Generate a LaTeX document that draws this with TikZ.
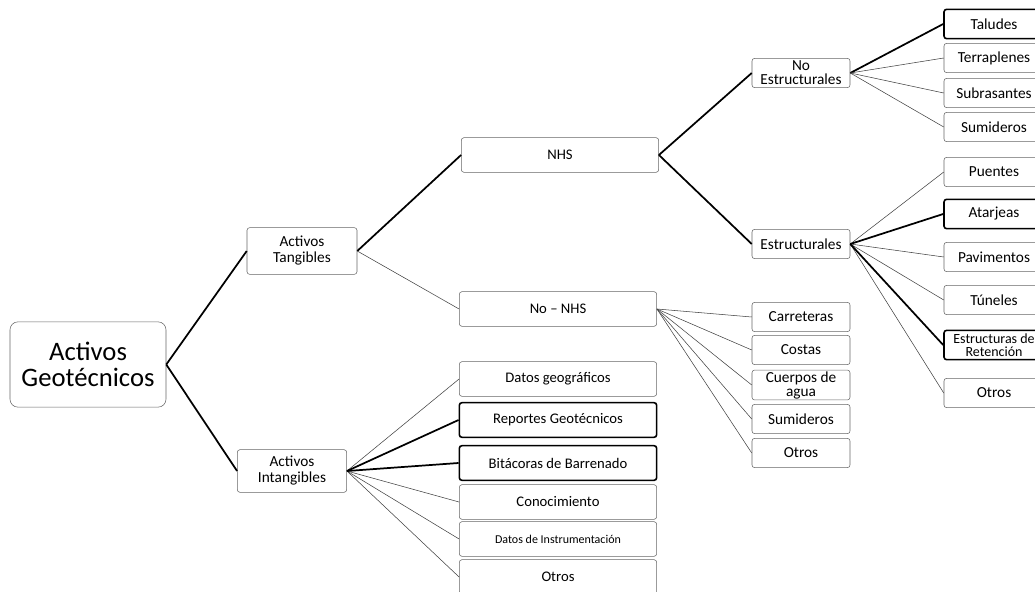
\documentclass[tikz,border=0pt]{standalone}
\usepackage{fontspec}
\setmainfont{Carlito}
\usepackage{tikz}

\tikzset{
  box/.style={draw=black!60, rounded corners=2pt, fill=white, align=center, inner sep=1pt,
    font=\fontsize{11}{11}\selectfont},
  hbox/.style={box, draw=black, line width=1.2pt},
  leaf/.style={minimum width=73.5pt, minimum height=22pt, font=\fontsize{11.5}{11}\selectfont},
  wide/.style={minimum width=148pt, minimum height=26pt},
  softlink/.style={draw=black!75, line width=0.4pt},
  hardlink/.style={draw=black, line width=1.3pt}
}

\begin{document}
\begin{tikzpicture}[x=0.75pt, y=-0.75pt]
\useasboundingbox (0,0) rectangle (1035,592);
% root and first level
\node[box, rounded corners=6pt, minimum width=117pt, minimum height=64pt,
  font=\fontsize{20}{20}\selectfont] (geo) at (88,364.5) {Activos\\Geotécnicos};
\node[box, minimum width=82.5pt, minimum height=35pt, font=\fontsize{11.5}{12}\selectfont] (tang) at (302,251) {Activos\\Tangibles};
\node[box, minimum width=82pt, minimum height=32pt, font=\fontsize{11.5}{12}\selectfont] (intang) at (292,471) {Activos\\Intangibles};
% tangibles
\node[box, wide] (nhs) at (560,155) {NHS};
\node[box, wide] (nonhs) at (558,309) {No -- NHS};
\node[box, leaf, font=\fontsize{11.5}{10.5}\selectfont] (noestr) at (801,73) {No\\Estructurales};
\node[box, leaf] (estr) at (801,244) {Estructurales};
% no estructurales
\node[hbox, leaf, minimum width=75pt] (talud) at (994,24) {Taludes};
\node[box, leaf, minimum width=75pt] (terra) at (994,58) {Terraplenes};
\node[box, leaf, minimum width=75pt] (subras) at (994,93) {Subrasantes};
\node[box, leaf, minimum width=75pt] (sumid) at (994,127) {Sumideros};
% estructurales
\node[box, leaf, minimum width=75pt] (puent) at (994,172) {Puentes};
\node[hbox, leaf, minimum width=75pt] (atarj) at (994,214) {Atarjeas};
\node[box, leaf, minimum width=75pt] (pavim) at (994,257) {Pavimentos};
\node[box, leaf, minimum width=75pt] (tunel) at (994,300) {Túneles};
\node[hbox, leaf, minimum width=75pt, font=\fontsize{10.5}{10}\selectfont] (reten) at (994,345) {Estructuras de\\Retención};
\node[box, leaf, minimum width=75pt] (otrosE) at (994,393) {Otros};
% no-nhs
\node[box, leaf] (carr) at (801,317) {Carreteras};
\node[box, leaf] (cost) at (801,350) {Costas};
\node[box, leaf, font=\fontsize{11.5}{10.5}\selectfont] (cuerp) at (801,385) {Cuerpos de\\agua};
\node[box, leaf] (sumidN) at (801,419) {Sumideros};
\node[box, leaf] (otrosN) at (801,453) {Otros};
% intangibles
\node[box, wide] (datgeo) at (558,379) {Datos geográficos};
\node[hbox, wide] (report) at (558,420) {Reportes Geotécnicos};
\node[hbox, wide] (bitac) at (558,463) {Bitácoras de Barrenado};
\node[box, wide] (conoc) at (558,502) {Conocimiento};
\node[box, wide, font=\fontsize{9}{9}\selectfont] (instr) at (558,539) {Datos de Instrumentación};
\node[box, wide] (otrosI) at (558,577) {Otros};

\draw[hardlink] (geo.east) -- (tang.west);
\draw[hardlink] (geo.east) -- (intang.west);
\draw[hardlink] (tang.east) -- (nhs.west);
\draw[softlink] (tang.east) -- (nonhs.west);
\draw[hardlink] (nhs.east) -- (noestr.west);
\draw[hardlink] (nhs.east) -- (estr.west);
\draw[hardlink] (noestr.east) -- (talud.west);
\foreach \n in {terra,subras,sumid}
  \draw[softlink] (noestr.east) -- (\n.west);
\foreach \n in {puent,pavim,tunel,otrosE}
  \draw[softlink] (estr.east) -- (\n.west);
\draw[hardlink] (estr.east) -- (atarj.west);
\draw[hardlink] (estr.east) -- (reten.west);
\foreach \n in {carr,cost,cuerp,sumidN,otrosN}
  \draw[softlink] (nonhs.east) -- (\n.west);
\foreach \n in {datgeo,conoc,instr,otrosI}
  \draw[softlink] (intang.east) -- (\n.west);
\draw[hardlink] (intang.east) -- (report.west);
\draw[hardlink] (intang.east) -- (bitac.west);
\end{tikzpicture}
\end{document}
